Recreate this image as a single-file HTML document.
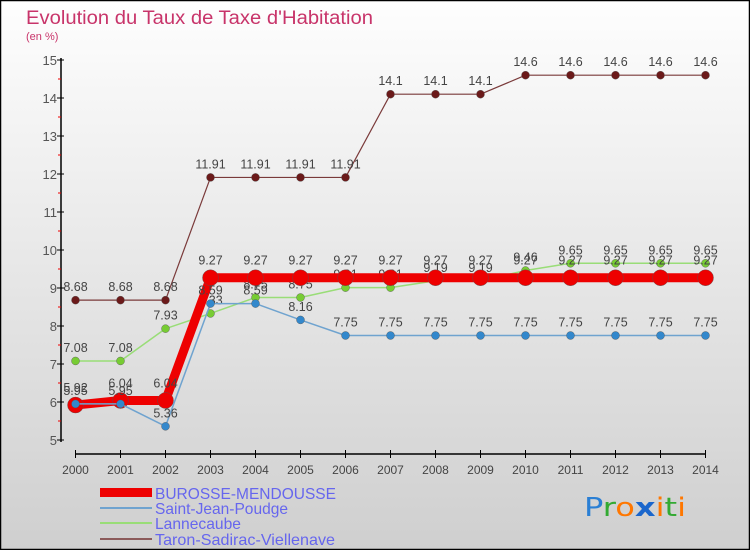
<!DOCTYPE html>
<html><head><meta charset="utf-8"><style>
html,body{margin:0;padding:0}
body{width:750px;height:550px;overflow:hidden;font-family:"Liberation Sans",sans-serif}
</style></head><body>
<svg id="c" width="750" height="550" xmlns="http://www.w3.org/2000/svg" font-family="Liberation Sans, sans-serif">
<defs><linearGradient id="bg" x1="0" y1="0" x2="0" y2="1"><stop offset="0" stop-color="#fefefe"/><stop offset="1" stop-color="#cfcfcf"/></linearGradient></defs>
<rect x="0.5" y="0.5" width="749" height="549" fill="url(#bg)" stroke="#000" stroke-width="1.5"/>
<text x="26" y="24" font-size="19" fill="#c8346a" textLength="347" lengthAdjust="spacingAndGlyphs">Evolution du Taux de Taxe d'Habitation</text>
<text x="26" y="40" font-size="11" fill="#c8346a">(en %)</text>
<g id="plot"></g>
<g>
<rect x="100" y="488" width="52" height="9" fill="#ee0000"/>
<text x="155" y="499" fill="#6666ee" font-size="16" textLength="181" lengthAdjust="spacingAndGlyphs">BUROSSE-MENDOUSSE</text>
<rect x="100" y="507" width="52" height="2" fill="#6fa3cf"/>
<text x="155" y="514" fill="#6666ee" font-size="16" textLength="133" lengthAdjust="spacingAndGlyphs">Saint-Jean-Poudge</text>
<rect x="100" y="522" width="52" height="2" fill="#99dd77"/>
<text x="155" y="529" fill="#6666ee" font-size="16" textLength="86" lengthAdjust="spacingAndGlyphs">Lannecaube</text>
<rect x="100" y="538" width="52" height="2" fill="#8b5a5a"/>
<text x="155" y="545" fill="#6666ee" font-size="16" textLength="180" lengthAdjust="spacingAndGlyphs">Taron-Sadirac-Viellenave</text>
</g>
<g font-size="26" font-family="'DejaVu Sans',sans-serif">
<text x="584" y="516" textLength="102" lengthAdjust="spacingAndGlyphs"><tspan fill="#2a7fd4">P</tspan><tspan fill="#33aa33">r</tspan><tspan fill="#ff7700">o</tspan><tspan fill="#1a66cc" font-weight="bold">x</tspan><tspan fill="#ff7700">i</tspan><tspan fill="#33aa33">t</tspan><tspan fill="#ff7700">i</tspan></text>
</g>
</svg>
<script>
const years=[2000,2001,2002,2003,2004,2005,2006,2007,2008,2009,2010,2011,2012,2013,2014];
const yTicks=[5,6,7,8,9,10,11,12,13,14,15];
const burosse=[5.92,6.04,6.04,9.27,9.27,9.27,9.27,9.27,9.27,9.27,9.27,9.27,9.27,9.27,9.27];
const saintJean=[5.95,5.95,5.36,8.59,8.59,8.16,7.75,7.75,7.75,7.75,7.75,7.75,7.75,7.75,7.75];
const lannecaube=[7.08,7.08,7.93,8.33,8.75,8.75,9.01,9.01,9.19,9.19,9.46,9.65,9.65,9.65,9.65];
const taron=[8.68,8.68,8.68,11.91,11.91,11.91,11.91,14.1,14.1,14.1,14.6,14.6,14.6,14.6,14.6];
const NS='http://www.w3.org/2000/svg';
const X=i=>75.5+i*(705.5-75.5)/(years.length-1);
const Y=v=>440-(v-5)*38;
const g=document.getElementById('plot');
function el(t,a,p){const e=document.createElementNS(NS,t);for(const k in a)e.setAttribute(k,a[k]);(p||g).appendChild(e);return e;}
const ya=el('line',{x1:61,y1:58,x2:61,y2:442,stroke:'#000','stroke-width':1.5});


const xa=el('line',{x1:75,y1:454,x2:706,y2:454,stroke:'#000','stroke-width':1.5});


yTicks.forEach(v=>{
  el('line',{x1:57,y1:Y(v),x2:64,y2:Y(v),stroke:'#000'});
  if(v<15){el('line',{x1:58,y1:Y(v+0.5),x2:61,y2:Y(v+0.5),stroke:'#e00'});}
  const t=el('text',{x:57,y:Y(v)+5,'text-anchor':'end','font-size':13,fill:'#555'});
  t.textContent=v;
  
  
});
years.forEach((yr,i)=>{
  el('line',{x1:X(i),y1:450,x2:X(i),y2:458,stroke:'#000'});
  const t=el('text',{x:X(i),y:474,'text-anchor':'middle','font-size':12,fill:'#444'});
  t.textContent=yr;
  
  
});
function series(name,data,color,w,r,dot){
  const sg=el('g',{});
  
  
  const pl=el('polyline',{points:data.map((v,i)=>X(i)+','+Y(v)).join(' '),fill:'none',stroke:color,'stroke-width':w,'stroke-linejoin':'round'},sg);
  
  
  data.forEach((v,i)=>{
    const c=el('circle',{cx:X(i),cy:Y(v),r:r,fill:dot,stroke:'#555','stroke-width':0.4},sg);
    
    
    const t=el('text',{x:X(i),y:Y(v)-(r+5),'text-anchor':'middle','font-size':12.5,fill:'#444'},sg);
    t.textContent=v;
    
    
  });
}
series('taron',taron,'#7a3a3a',1.2,4,'#6b1a1a');
series('lannecaube',lannecaube,'#99dd77',1.5,4,'#77cc33');
series('burosse',burosse,'#ee0000',9,8,'#ee0000');
series('saint-jean',saintJean,'#6fa3cf',1.5,4,'#3388cc');
</script>
</body></html>
